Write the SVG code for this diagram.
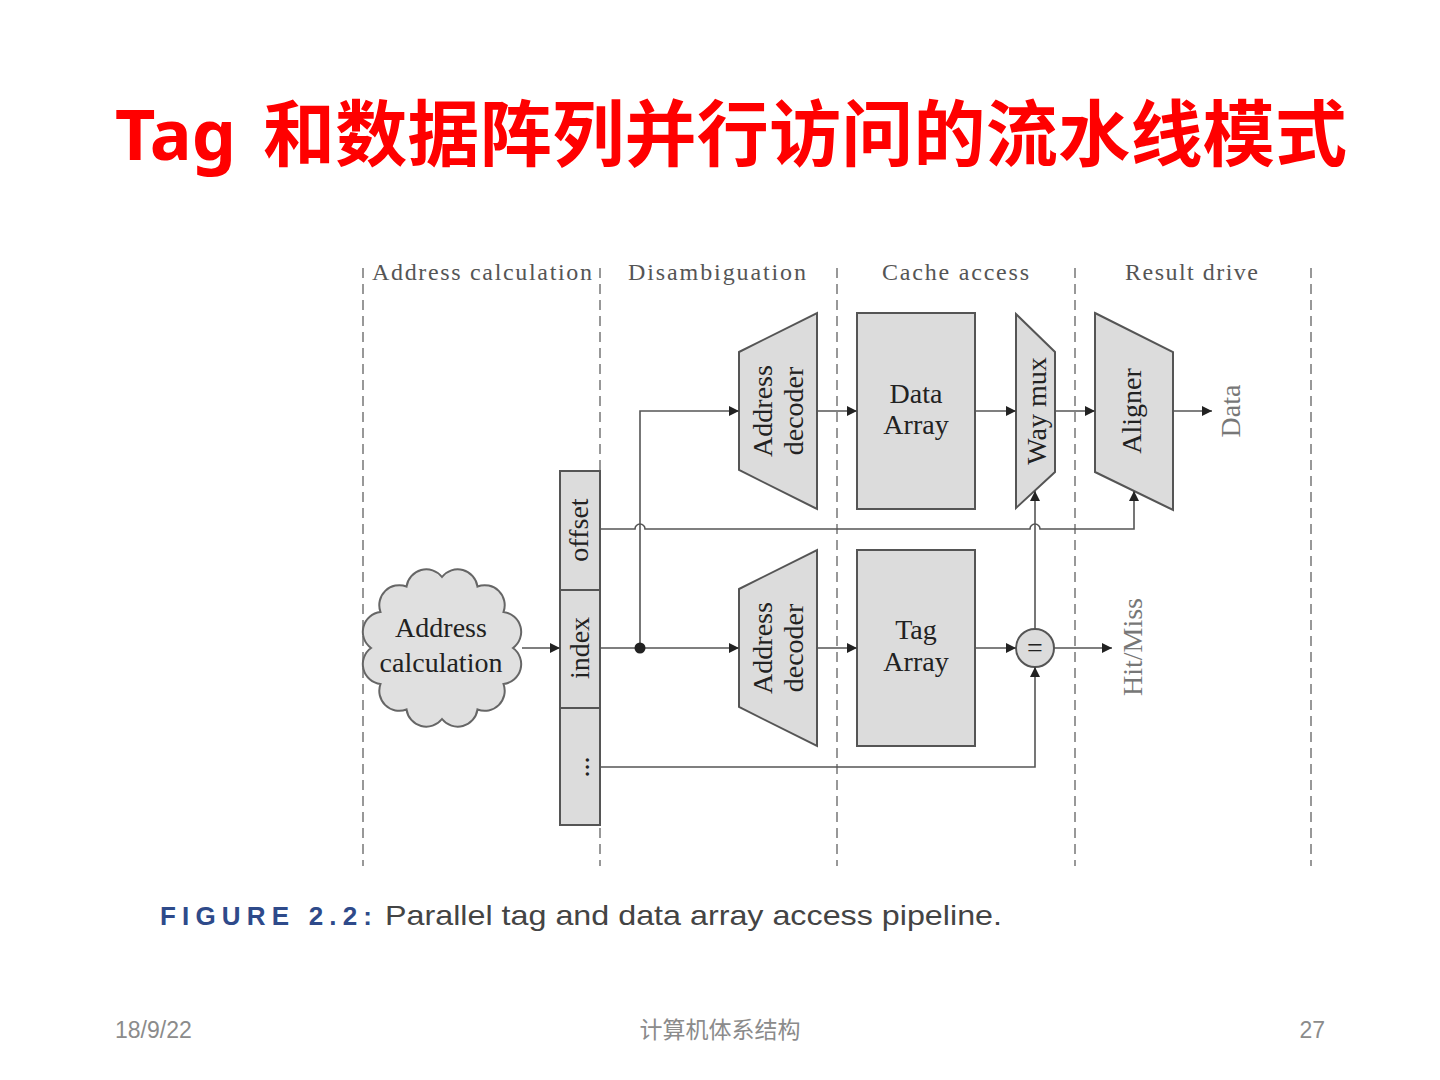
<svg xmlns="http://www.w3.org/2000/svg" width="1440" height="1080" viewBox="0 0 1440 1080">
<style>
.stage{font-family:"Liberation Serif","DejaVu Serif",serif;font-size:24px;fill:#555}
.lbl{font-family:"Liberation Serif","DejaVu Serif",serif;font-size:28px;fill:#222}
.out{font-family:"Liberation Serif","DejaVu Serif",serif;font-size:28px;fill:#777}
.box{fill:#dcdcdc;stroke:#555;stroke-width:2}
.dash{stroke:#777;stroke-width:1.5;stroke-dasharray:10 6;fill:none}
.wire{stroke:#555;stroke-width:1.6;fill:none}
.arr{marker-end:url(#ah)}
.foot{font-family:"Liberation Sans","Noto Sans CJK SC",sans-serif;font-size:23px;fill:#8b8b8b}
</style>
<defs>
<marker id="ah" markerUnits="userSpaceOnUse" markerWidth="10" markerHeight="10" refX="10" refY="5" orient="auto">
<path d="M0,0 L10,5 L0,10 z" fill="#222"/>
</marker>
</defs>
<rect width="1440" height="1080" fill="#fff"/>

<g id="title">
<text y="160" font-family="'Noto Sans','Noto Sans CJK SC',sans-serif" font-weight="bold" font-size="70" fill="#ff0000"><tspan x="115">Tag</tspan><tspan x="263" font-family="'Noto Sans CJK SC',sans-serif" font-size="72" textLength="1084" lengthAdjust="spacing">和数据阵列并行访问的流水线模式</tspan></text>
</g>

<g id="stages">
<line class="dash" x1="363" y1="268" x2="363" y2="866"/>
<line class="dash" x1="600" y1="268" x2="600" y2="866"/>
<line class="dash" x1="837" y1="268" x2="837" y2="866"/>
<line class="dash" x1="1075" y1="268" x2="1075" y2="866"/>
<line class="dash" x1="1311" y1="268" x2="1311" y2="866"/>
<text class="stage" x="372" y="280" textLength="220" lengthAdjust="spacing">Address calculation</text>
<text class="stage" x="628" y="280" textLength="178" lengthAdjust="spacing">Disambiguation</text>
<text class="stage" x="882" y="280" textLength="147" lengthAdjust="spacing">Cache access</text>
<text class="stage" x="1125" y="280" textLength="133" lengthAdjust="spacing">Result drive</text>
</g>

<g id="cloud">
<path class="box" style="fill:#e0e0e0;stroke:#666" d="M513,648 A20,20 0 0 1 503.5,684 A20,20 0 0 1 477.5,709.5 A20,20 0 0 1 442,719 A20,20 0 0 1 406.5,709.5 A20,20 0 0 1 380.5,684 A20,20 0 0 1 371,648 A20,20 0 0 1 380.5,612 A20,20 0 0 1 406.5,586.5 A20,20 0 0 1 442,577 A20,20 0 0 1 477.5,586.5 A20,20 0 0 1 503.5,612 A20,20 0 0 1 513,648 Z"/>
<text class="lbl" x="441" y="637" text-anchor="middle">Address</text>
<text class="lbl" x="441" y="672" text-anchor="middle">calculation</text>
</g>

<g id="fields">
<rect class="box" x="560" y="471" width="40" height="119"/>
<rect class="box" x="560" y="590" width="40" height="118"/>
<rect class="box" x="560" y="708" width="40" height="117"/>
<text class="lbl" transform="translate(588,530) rotate(-90)" text-anchor="middle">offset</text>
<text class="lbl" transform="translate(589,648) rotate(-90)" text-anchor="middle">index</text>
<text class="lbl" transform="translate(589,767) rotate(-90)" text-anchor="middle">...</text>
</g>

<g id="decoder-top">
<path class="box" d="M739,352 L817,313 L817,509 L739,470 Z"/>
<text class="lbl" transform="translate(772,411) rotate(-90)" text-anchor="middle">Address</text>
<text class="lbl" transform="translate(803,411) rotate(-90)" text-anchor="middle">decoder</text>
</g>

<g id="decoder-bottom">
<path class="box" d="M739,589 L817,550 L817,746 L739,707 Z"/>
<text class="lbl" transform="translate(772,648) rotate(-90)" text-anchor="middle">Address</text>
<text class="lbl" transform="translate(803,648) rotate(-90)" text-anchor="middle">decoder</text>
</g>

<g id="data-array">
<rect class="box" x="857" y="313" width="118" height="196"/>
<text class="lbl" x="916" y="403" text-anchor="middle">Data</text>
<text class="lbl" x="916" y="434" text-anchor="middle">Array</text>
</g>

<g id="tag-array">
<rect class="box" x="857" y="550" width="118" height="196"/>
<text class="lbl" x="916" y="639" text-anchor="middle">Tag</text>
<text class="lbl" x="916" y="671" text-anchor="middle">Array</text>
</g>

<g id="way-mux">
<path class="box" d="M1016,314 L1055,352 L1055,472 L1016,508 Z"/>
<text class="lbl" transform="translate(1046,411) rotate(-90)" text-anchor="middle">Way mux</text>
</g>

<g id="aligner">
<path class="box" d="M1095,313 L1173,352 L1173,510 L1095,472 Z"/>
<text class="lbl" transform="translate(1141,411) rotate(-90)" text-anchor="middle">Aligner</text>
</g>

<g id="compare">
<circle class="box" cx="1035" cy="648" r="19"/>
<text class="lbl" x="1035" y="657" text-anchor="middle">=</text>
</g>

<g id="outputs">
<text class="out" transform="translate(1240,411) rotate(-90)" text-anchor="middle">Data</text>
<text class="out" transform="translate(1142,647) rotate(-90)" text-anchor="middle">Hit/Miss</text>
</g>

<g id="connectors">
<path class="wire arr" d="M522,648 H560"/>
<path class="wire arr" d="M600,648 H739"/>
<path class="wire arr" d="M640,648 V411 H739"/>
<path class="wire arr" d="M817,411 H857"/>
<path class="wire arr" d="M817,648 H857"/>
<path class="wire arr" d="M975,411 H1016"/>
<path class="wire arr" d="M1055,411 H1095"/>
<path class="wire arr" d="M1173,411 H1212"/>
<path class="wire arr" d="M975,648 H1016"/>
<path class="wire arr" d="M1054,648 H1112"/>
<path class="wire arr" d="M1035,629 V491"/>
<path class="wire arr" d="M600,529 H635 A5,5 0 0 1 645,529 H1030 A5,5 0 0 1 1040,529 H1134 V491"/>
<path class="wire arr" d="M600,767 H1035 V667"/>
<circle cx="640" cy="648" r="5.5" fill="#222"/>
</g>

<g id="caption">
<text x="160" y="925" font-family="'Liberation Sans',sans-serif" font-weight="bold" font-size="26" fill="#2e4a8a" textLength="212" lengthAdjust="spacing">FIGURE 2.2:</text>
<text x="385" y="925" font-family="'Liberation Sans',sans-serif" font-size="28" fill="#444" textLength="617" lengthAdjust="spacingAndGlyphs">Parallel tag and data array access pipeline.</text>
</g>

<g id="footer">
<text class="foot" x="115" y="1038">18/9/22</text>
<text class="foot" x="720" y="1038" text-anchor="middle" font-family="'Noto Sans CJK SC',sans-serif" font-size="24">计算机体系结构</text>
<text class="foot" x="1325" y="1038" text-anchor="end">27</text>
</g>
</svg>
